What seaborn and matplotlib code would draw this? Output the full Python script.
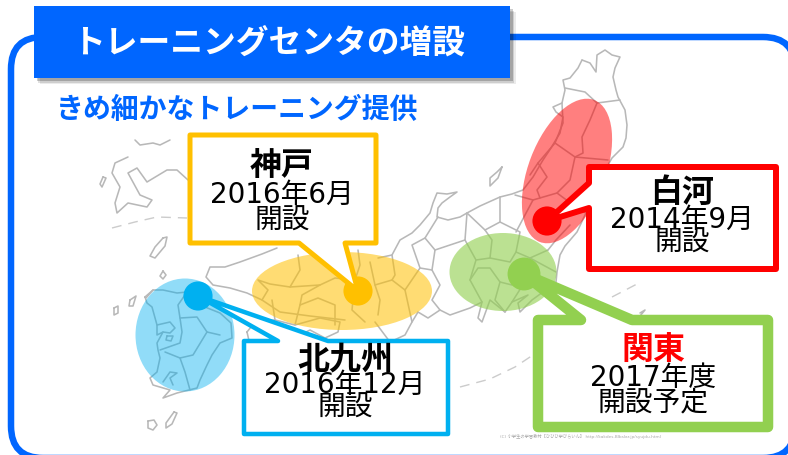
# トレーニングセンタの増設 - callout map, drawn on a pixel-sized axes
import matplotlib
matplotlib.use("Agg")
import matplotlib.pyplot as plt
import pandas as pd
import seaborn as sns
from matplotlib.patches import Ellipse, FancyBboxPatch, Polygon, Rectangle

sns.set_theme(style="white")
plt.rcParams["font.family"] = ["DejaVu Sans", "Noto Sans CJK JP"]

BLUE = "#0066FF"
GREY = "#B8B8B8"

# training centres
sites = ["神戸", "北九州", "白河", "関東"]
site_x = [358, 198, 547, 524]
site_y = [291, 296, 221, 274]
site_colors = ["#FFC000", "#00B0F0", "#FF0000", "#92D050"]
site_sizes = [440, 440, 440, 560]
opened = ["2016年6月", "2016年12月", "2014年9月", "2017年度"]
status = ["開設", "開設", "開設", "開設予定"]
name_colors = ["black", "black", "black", "red"]

# coverage ellipses: centre x, centre y, width, height, angle
area_x = [342, 185, 567, 503]
area_y = [291, 335, 171, 272]
area_w = [180, 99, 77, 107]
area_h = [78, 113, 152, 78]
area_angle = [0, 0, 21, 0]
area_alpha = [0.55, 0.43, 0.5, 0.62]

# callout boxes: left, top, right, bottom, pointer
box_left = [190, 244, 589, 538]
box_top = [135, 341, 167, 320]
box_right = [376, 448, 776, 768]
box_bottom = [243, 434, 269, 427]
box_lw = [5, 4.5, 6, 10.5]
text_x = [282, 345, 682, 653]
name_y = [167, 360, 193, 351]
date_y = [195, 385, 220, 378]
status_y = [221, 408, 243, 402]

# map outlines, in picture pixels
map_lines = [
    # Tohoku and Pacific side of Honshu
    [(582, 60), (590, 63), (596, 72), (597, 55), (605, 50), (612, 55), (620, 57), (615, 68), (613, 77), (616, 90),
     (618, 97), (625, 110), (627, 125), (626, 138), (623, 147), (612, 158), (608, 165)],
    [(586, 213), (577, 232), (565, 246), (560, 255), (557, 272), (556, 282), (543, 292), (532, 300), (520, 312),
     (518, 303), (528, 295), (512, 302), (505, 312), (490, 300), (482, 322), (478, 318), (482, 302), (470, 308),
     (450, 315), (440, 310), (428, 318), (418, 312), (412, 322), (405, 335), (390, 342), (375, 322)],
    # Sea of Japan side
    [(582, 60), (578, 68), (570, 78), (563, 80), (565, 90), (562, 103), (553, 107), (556, 112), (563, 117), (560, 133),
     (551, 148), (543, 160), (533, 177), (523, 190), (512, 194), (500, 197), (480, 206), (467, 213), (460, 217),
     (448, 220), (437, 217), (438, 208), (442, 203), (450, 197), (457, 192), (447, 194), (437, 193), (433, 203),
     (430, 213), (420, 225), (412, 233), (400, 240), (392, 255), (378, 258)],
    # Chugoku
    [(277, 248), (262, 254), (240, 262), (225, 267), (210, 267), (206, 277), (213, 285), (230, 288), (247, 293),
     (262, 300), (280, 312), (310, 316), (345, 320)],
    # Kyushu
    [(145, 297), (153, 290), (163, 290), (177, 293), (187, 292), (200, 305), (220, 313), (231, 323), (232, 338),
     (220, 343), (212, 355), (207, 365), (200, 380), (197, 388), (177, 393), (163, 398), (170, 390), (153, 385),
     (150, 378), (157, 372), (160, 358), (158, 350), (157, 343), (163, 332), (157, 335), (157, 325), (152, 307),
     (147, 303), (145, 297)],
    [(157, 325), (170, 322), (175, 328), (170, 333), (163, 332)],
    [(160, 350), (180, 343), (182, 332), (180, 318), (197, 317), (207, 332), (220, 335)],
    [(187, 292), (178, 305), (180, 318)], [(207, 332), (193, 355), (180, 358), (185, 372), (190, 390)],
    [(180, 358), (165, 352)], [(163, 382), (170, 372), (177, 373), (170, 378), (173, 385)],
    [(167, 336), (173, 336), (171, 341), (166, 340), (167, 336)],
    # Shikoku
    [(247, 332), (255, 322), (275, 320), (295, 325), (320, 318), (340, 322), (338, 332), (325, 338), (310, 330),
     (290, 340), (275, 350), (262, 340), (250, 345), (247, 332)],
    [(275, 320), (272, 300)], [(295, 325), (300, 305), (318, 298), (335, 305), (335, 325)],
    # prefecture borders, west
    [(262, 300), (268, 290), (258, 280), (270, 284), (290, 287), (300, 270), (298, 255)],
    [(290, 287), (320, 285), (335, 278), (355, 280)],
    [(300, 305), (302, 295), (320, 285)],
    [(355, 280), (360, 265), (358, 250)], [(365, 322), (352, 310), (355, 280)],
    [(370, 262), (375, 285), (380, 300), (378, 315)], [(375, 285), (392, 280), (405, 290), (412, 322)],
    [(392, 255), (395, 275), (392, 280)], [(405, 290), (420, 268), (432, 270), (440, 285), (432, 300), (440, 310)],
    [(420, 268), (412, 245), (425, 238), (435, 250), (432, 270)],
    [(425, 238), (438, 217)], [(435, 250), (465, 240), (467, 213)],
    [(465, 240), (476, 260), (470, 280), (482, 302)], [(476, 260), (490, 258), (492, 240), (485, 230), (500, 222),
                                                     (520, 232), (516, 252), (530, 258), (548, 250)],
    [(485, 230), (467, 213)], [(500, 222), (500, 197)],
    [(490, 258), (510, 262), (516, 252)], [(470, 280), (478, 268), (490, 268), (500, 282), (512, 285)],
    [(500, 282), (495, 300), (505, 312)], [(530, 258), (526, 280), (512, 302)], [(530, 258), (556, 272)],
    # Tohoku prefectures
    [(565, 88), (585, 92), (597, 103), (620, 100)], [(597, 103), (590, 120), (582, 137), (583, 153), (575, 157),
                                                    (555, 143), (563, 123), (562, 103)],
    [(575, 157), (570, 180), (557, 193), (533, 200), (515, 195)], [(555, 143), (538, 163), (547, 177), (537, 190),
                                                                  (540, 198)],
    [(538, 163), (530, 175)], [(575, 157), (608, 160)], [(557, 193), (580, 210), (586, 213)],
    [(533, 200), (525, 215), (516, 232)], [(548, 250), (556, 240), (570, 225)],
    # islands and inset coast, top left
    [(135, 140), (140, 145), (153, 143), (160, 145), (170, 140)],
    [(128, 157), (115, 163), (112, 173), (120, 187), (115, 203), (117, 213), (128, 203), (147, 207), (152, 200),
     (140, 195), (128, 173), (137, 168), (147, 182), (167, 170), (177, 170), (188, 180)],
    [(103, 177), (106, 178), (102, 187), (100, 184), (103, 177)],
    [(163, 238), (167, 237), (165, 246), (155, 258), (150, 256), (155, 247), (163, 238)],
    [(163, 271), (166, 275), (163, 279), (160, 276), (163, 271)],
    [(114, 308), (118, 306), (118, 313), (114, 315), (114, 308)], [(130, 300), (136, 296), (133, 306), (129, 306), (130, 300)],
    [(146, 298), (153, 290)],
    [(174, 412), (177, 413), (172, 424), (166, 428), (166, 423), (174, 412)],
    [(148, 421), (154, 420), (157, 425), (153, 430), (148, 428), (148, 421)],
    [(502, 167), (498, 178), (490, 186), (490, 178), (497, 172), (502, 167)],
    [(640, 313), (645, 310), (640, 316)],
]
dash_lines = [
    [(112, 228), (135, 222), (157, 217), (187, 218)],
    [(460, 387), (490, 379), (515, 367), (533, 355)],
    [(612, 297), (637, 284)],
]


def to_frame(lines):
    rows = [(i, x, y) for i, line in enumerate(lines) for x, y in line]
    return pd.DataFrame(rows, columns=["seg", "x", "y"])


fig = plt.figure(figsize=(7.88, 4.55), dpi=100)
ax = fig.add_axes([0, 0, 1, 1])
ax.set_xlim(0, 788)
ax.set_ylim(455, 0)
ax.set_axis_off()
px = 0.72  # points per pixel

# outer frame
ax.add_patch(FancyBboxPatch((11 + 32, 37 + 32), 784 - 64, 421 - 64, boxstyle="round,pad=32,rounding_size=32",
                            fc="white", ec=BLUE, lw=6.5 * px, zorder=1, clip_on=True))

sns.lineplot(data=to_frame(map_lines), x="x", y="y", units="seg", estimator=None, sort=False,
             color=GREY, lw=1.3 * px + 0.2, ax=ax, zorder=2, legend=False, solid_joinstyle="round")
sns.lineplot(data=to_frame(dash_lines), x="x", y="y", units="seg", estimator=None, sort=False,
             color="#CCCCCC", lw=1.4 * px, dashes=False, linestyle=(0, (7, 5)), ax=ax, zorder=2, legend=False)

for i in range(len(sites)):
    ax.add_patch(Ellipse((area_x[i], area_y[i]), area_w[i], area_h[i], angle=area_angle[i],
                         fc=site_colors[i], alpha=area_alpha[i], ec="none", zorder=3))

sns.scatterplot(x=site_x, y=site_y, hue=sites, palette=dict(zip(sites, site_colors)), size=sites,
                sizes=dict(zip(sites, site_sizes)), linewidth=0, legend=False, ax=ax, zorder=4)

# callouts: box outline with the pointer running to its site
pointers = [
    [(299, 243), (358, 291), (345, 243)],
    [(328, 341), (198, 296), (278, 341)],
    [(589, 208), (547, 221), (589, 183)],
    [(632, 320), (524, 274), (581, 320)],
]
for i in range(len(sites)):
    l, t, r, b = box_left[i], box_top[i], box_right[i], box_bottom[i]
    if i == 0:
        verts = [(l, t), (r, t), (r, b)] + pointers[i][::-1] + [(l, b)]
    elif i == 2:
        verts = [(l, t), (r, t), (r, b), (l, b)] + pointers[i]
    else:
        verts = [(l, t)] + pointers[i][::-1] + [(r, t), (r, b), (l, b)]
    ax.add_patch(Polygon(verts, closed=True, fc="white", ec=site_colors[i], lw=box_lw[i] * px,
                         joinstyle="round", zorder=5))
    ax.text(text_x[i], name_y[i], sites[i], ha="center", va="center", fontsize=23, fontweight="bold",
            color=name_colors[i], zorder=6)
    ax.text(text_x[i], date_y[i], opened[i], ha="center", va="center", fontsize=20, color="black", zorder=6)
    ax.text(text_x[i], status_y[i], status[i], ha="center", va="center", fontsize=20, color="black", zorder=6)

# title block with soft shadow
for off, a in [(6, 0.08), (4.5, 0.12), (3, 0.2)]:
    ax.add_patch(Rectangle((34 + off, 6 + off), 476, 72, fc="black", alpha=a, ec="none", zorder=7))
ax.add_patch(Rectangle((34, 6), 476, 72, fc=BLUE, ec="none", zorder=8))
ax.text(269, 43, "トレーニングセンタの増設", ha="center", va="center", fontsize=23.6, fontweight="bold",
        color="white", zorder=9)
ax.text(237, 110, "きめ細かなトレーニング提供", ha="center", va="center", fontsize=20.1, fontweight="bold",
        color=BLUE, zorder=9)
ax.text(580, 436, "(C) 小学生の学習教材【ひひひ学びらいん】 http://kakdes.Blbslar.jp/syujdu.html", ha="center",
        va="center", fontsize=3.05, color="#AAAAAA", zorder=9)

fig.savefig("out.png", dpi=100)
